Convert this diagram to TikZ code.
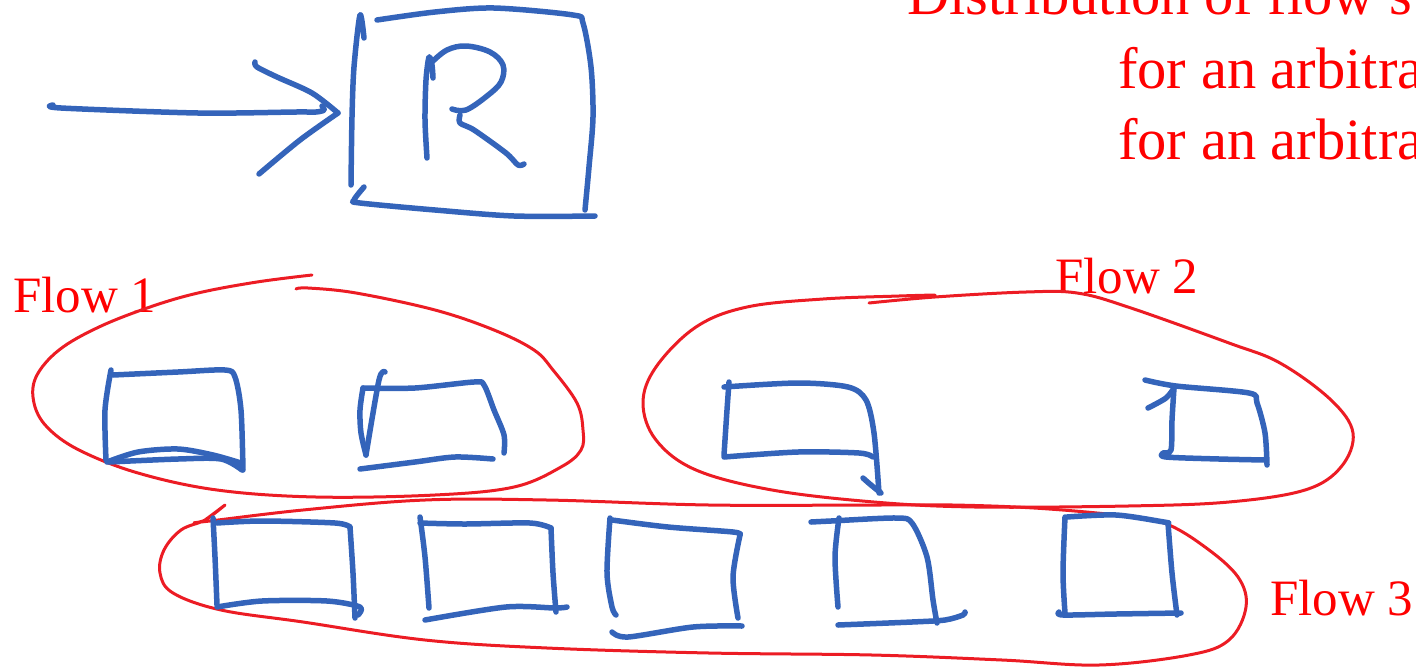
\documentclass[tikz,border=0pt]{standalone}
\usepackage{fontspec}
\setmainfont{Liberation Serif}
\definecolor{penblue}{RGB}{52,100,186}
\definecolor{penred}{RGB}{236,28,36}
\definecolor{txtred}{RGB}{255,0,0}
\begin{document}
\begin{tikzpicture}[x=1pt,y=-1pt,
  bluepen/.style={draw=penblue,line width=5.5pt,line cap=round,line join=round},
  redpen/.style={draw=penred,line width=3pt,line cap=round,line join=round},
  lbl/.style={text=txtred,anchor=base west,inner sep=0pt,font=\fontsize{51}{60}\selectfont},
  bigtxt/.style={text=txtred,anchor=base west,inner sep=0pt,font=\fontsize{58.5}{70}\selectfont}]
\useasboundingbox (0,0) rectangle (1416,670);
\clip (0,0) rectangle (1416,670);

% ---- title text (cut off by the frame) ----
\node[bigtxt] (t1) at (907,14) {Distribution of flow s};
\node[bigtxt] (t2) at (1118,88) {for an arbitra};
\node[bigtxt] (t3) at (1118,159) {for an arbitra};

% ---- arrow ----
\draw[bluepen] plot[smooth,tension=0.5] coordinates {(53,105) (61,108) (198,113) (296,112) (316,112) (324,110) (322,106)};
\draw[bluepen] plot[smooth,tension=0.5] coordinates {(255,62) (257,67) (277,77) (312,93) (338,113)};
\draw[bluepen] plot[smooth,tension=0.5] coordinates {(338,113) (300,140) (259,174)};

% ---- R box ----
\draw[bluepen] plot[smooth,tension=0.5] coordinates {(364,38) (360,15) (354,67) (352,117) (351,185)};
\draw[bluepen] plot[smooth,tension=0.5] coordinates {(377,20) (435,12) (494,8) (573,15) (583,23) (591,67) (593,117) (589,167) (585,210)};
\draw[bluepen] plot[smooth,tension=0.5] coordinates {(364,187) (354,200) (360,203) (435,210) (514,216) (595,216)};
% R letter
\draw[bluepen] plot[smooth,tension=0.5] coordinates {(427,158) (425,120) (426,80) (429,57) (432,65) (433,78)};
\draw[bluepen] plot[smooth,tension=0.6] coordinates {(432,62) (447,50) (466,46) (490,52) (503,65) (501,82) (487,96) (466,110) (452,109)};
\draw[bluepen] plot[smooth,tension=0.5] coordinates {(460,115) (460,123) (474,130) (506,153) (518,165) (524,164)};

% ---- Flow 1 ----
\node[lbl] (f1) at (13,312) {Flow 1};
\draw[redpen] plot[smooth,tension=0.6] coordinates {(312,275) (257,282) (198,293) (150,307) (99,327) (59,350) (36,377) (34,403) (47,427) (79,450) (138,473) (217,490) (316,497) (435,495) (514,487) (561,467) (581,450) (583,430) (577,403) (553,370) (534,350) (494,330) (435,310) (356,293) (308,288) (296,289)};
% box A
\draw[bluepen] plot[smooth,tension=0.5] coordinates {(111,370) (105,410) (106,460)};
\draw[bluepen] plot[smooth,tension=0.5] coordinates {(113,375) (178,372) (225,370) (235,377) (241,410) (243,470)};
\draw[bluepen] plot[smooth,tension=0.5] coordinates {(107,462) (138,452) (178,449) (213,455) (241,463)};
\draw[bluepen] plot[smooth,tension=0.5] coordinates {(109,462) (178,459) (221,459) (242,470)};
% box B
\draw[bluepen] plot[smooth,tension=0.5] coordinates {(385,372) (379,380) (366,455)};
\draw[bluepen] plot[smooth,tension=0.5] coordinates {(366,455) (361,433) (360,410) (363,388)};
\draw[bluepen] plot[smooth,tension=0.5] coordinates {(363,388) (415,388) (474,382) (484,385) (494,410) (504,435) (504,453)};
\draw[bluepen] plot[smooth,tension=0.5] coordinates {(360,469) (415,462) (455,457) (493,459)};

% ---- Flow 2 ----
\node[lbl] (f2) at (1055,293) {Flow 2};
\draw[redpen] plot[smooth,tension=0.6] coordinates {(869,303) (935,297) (1026,292) (1077,293) (1128,307) (1229,343) (1280,363) (1331,400) (1353,433) (1341,467) (1305,490) (1229,502) (1128,506) (975,507) (874,502) (772,490) (696,470) (656,440) (643,403) (656,367) (696,327) (747,307) (823,299) (899,296) (935,295)};
% box C
\draw[bluepen] plot[smooth,tension=0.5] coordinates {(729,382) (727,410) (724,455)};
\draw[bluepen] plot[smooth,tension=0.5] coordinates {(724,387) (798,383) (848,387) (866,400) (874,433) (879,493)};
\draw[bluepen] plot[smooth,tension=0.5] coordinates {(724,457) (798,452) (859,453) (873,457)};
\draw[bluepen] plot[smooth,tension=0.5] coordinates {(863,478) (871,485) (881,493)};
% box D
\draw[bluepen] plot[smooth,tension=0.5] coordinates {(1145,380) (1176,386) (1249,393) (1257,403) (1265,433) (1267,465)};
\draw[bluepen] plot[smooth,tension=0.5] coordinates {(1148,408) (1166,398) (1174,388)};
\draw[bluepen] plot[smooth,tension=0.5] coordinates {(1174,388) (1172,420) (1171,450) (1163,453) (1166,457) (1219,459) (1265,460)};

% ---- Flow 3 ----
\node[lbl] (f3) at (1270,615) {Flow 3};
\draw[redpen] plot[smooth,tension=0.6] coordinates {(225,505) (205,520) (201,522) (303,510) (425,500) (547,500) (709,505) (872,505) (953,505) (1034,508) (1116,515) (1164,523) (1205,547) (1238,577) (1246,607) (1229,640) (1189,655) (1099,665) (1002,660) (872,655) (709,653) (547,648) (425,640) (303,622) (221,610) (173,593) (160,573) (164,550) (181,530) (205,520) (225,505)};
% box 1
\draw[bluepen] plot[smooth,tension=0.5] coordinates {(213,518) (215,557) (217,605)};
\draw[bluepen] plot[smooth,tension=0.5] coordinates {(217,523) (262,521) (335,523) (350,527)};
\draw[bluepen] plot[smooth,tension=0.5] coordinates {(350,527) (353,573) (355,618)};
\draw[bluepen] plot[smooth,tension=0.5] coordinates {(217,607) (262,601) (327,601) (360,607) (358,615)};
% box 2
\draw[bluepen] plot[smooth,tension=0.5] coordinates {(420,517) (425,557) (429,608)};
\draw[bluepen] plot[smooth,tension=0.5] coordinates {(420,523) (465,524) (530,523) (551,528)};
\draw[bluepen] plot[smooth,tension=0.5] coordinates {(551,528) (553,573) (556,612)};
\draw[bluepen] plot[smooth,tension=0.5] coordinates {(425,620) (506,607) (555,608) (567,607)};
% box 3
\draw[bluepen] plot[smooth,tension=0.5] coordinates {(610,518) (607,573) (612,607) (616,615)};
\draw[bluepen] plot[smooth,tension=0.5] coordinates {(612,520) (668,527) (733,532) (740,535)};
\draw[bluepen] plot[smooth,tension=0.5] coordinates {(740,535) (733,577) (738,618)};
\draw[bluepen] plot[smooth,tension=0.5] coordinates {(612,632) (628,637) (693,627) (742,626)};
% box 4
\draw[bluepen] plot[smooth,tension=0.5] coordinates {(811,522) (831,521) (896,518) (912,523) (927,557) (933,600) (937,623)};
\draw[bluepen] plot[smooth,tension=0.5] coordinates {(839,518) (835,557) (838,607)};
\draw[bluepen] plot[smooth,tension=0.5] coordinates {(838,625) (912,622) (945,620) (963,615) (965,612)};
% box 5
\draw[bluepen] plot[smooth,tension=0.5] coordinates {(1065,517) (1063,573) (1065,613)};
\draw[bluepen] plot[smooth,tension=0.5] coordinates {(1067,517) (1116,515) (1164,522) (1168,523)};
\draw[bluepen] plot[smooth,tension=0.5] coordinates {(1168,523) (1172,573) (1177,615)};
\draw[bluepen] plot[smooth,tension=0.5] coordinates {(1059,612) (1063,615) (1116,614) (1181,613)};
\end{tikzpicture}
\end{document}
